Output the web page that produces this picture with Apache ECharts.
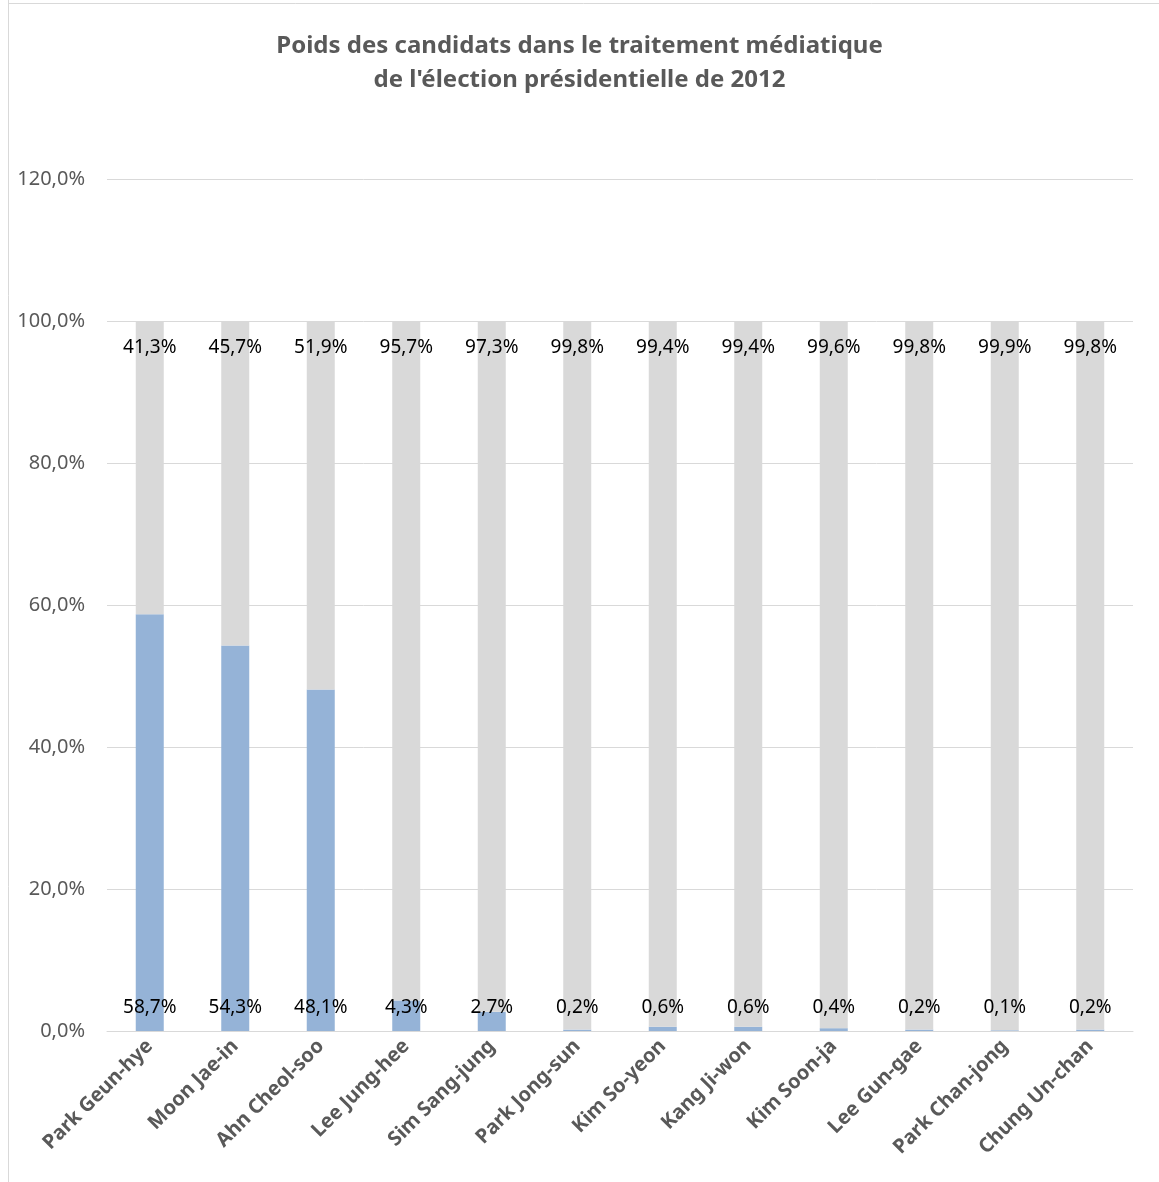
<!DOCTYPE html>
<html><head><meta charset="utf-8">
<script src="https://cdn.jsdelivr.net/npm/echarts@6/dist/echarts.min.js"></script>
<style>html,body{margin:0;padding:0;background:#fff}#c{width:1159px;height:1182px}</style>
</head><body><div id="c"></div>
<script>
const categories = ["Park Geun-hye","Moon Jae-in","Ahn Cheol-soo","Lee Jung-hee","Sim Sang-jung","Park Jong-sun","Kim So-yeon","Kang Ji-won","Kim Soon-ja","Lee Gun-gae","Park Chan-jong","Chung Un-chan"];
const shareValues = [58.7,54.3,48.1,4.3,2.7,0.2,0.6,0.6,0.4,0.2,0.1,0.2];
const restValues = [41.3,45.7,51.9,95.7,97.3,99.8,99.4,99.4,99.6,99.8,99.9,99.8];
const titleText = "Poids des candidats dans le traitement médiatique\nde l'élection présidentielle de 2012";

const fmt = v => v.toFixed(1).replace('.', ',') + '%';
const chart = echarts.init(document.getElementById('c'), null, {renderer:'canvas'});
chart.setOption({
  animation:false,
  backgroundColor:'#fff',
  textStyle:{fontFamily:'Noto Sans'},
  title:{text:titleText,left:'center',top:24,textStyle:{fontFamily:'Noto Sans',fontSize:24,fontWeight:'bold',color:'#595959',lineHeight:34}},
  graphic:[
    {type:'line',shape:{x1:8.5,y1:0,x2:8.5,y2:1182},style:{stroke:'#d9d9d9',lineWidth:1}},
    {type:'line',shape:{x1:8,y1:3.5,x2:1159,y2:3.5},style:{stroke:'#d9d9d9',lineWidth:1}}
  ],
  grid:{left:107,right:26,top:179,bottom:151},
  xAxis:{type:'category',data:categories,
    axisLine:{lineStyle:{color:'#d9d9d9',width:1}},axisTick:{show:false},
    axisLabel:{rotate:45,interval:0,fontFamily:'Noto Sans',fontSize:20,fontWeight:'bold',color:'#595959',margin:12}},
  yAxis:{type:'value',min:0,max:120,interval:20,
    axisLine:{show:false},axisTick:{show:false},
    splitLine:{lineStyle:{color:'#d9d9d9',width:1}},
    axisLabel:{formatter:v=>v.toFixed(1).replace('.',',')+'%',fontFamily:'Noto Sans',fontSize:20,color:'#595959',margin:22}},
  series:[
    {type:'bar',stack:'s',data:shareValues,barWidth:28,itemStyle:{color:'#95b3d7'},
     label:{show:true,position:'insideBottom',distance:14,formatter:p=>fmt(p.value),color:'#000',fontFamily:'Noto Sans',fontSize:19}},
    {type:'bar',stack:'s',data:restValues,barWidth:28,itemStyle:{color:'#d9d9d9'},
     label:{show:true,position:'insideTop',distance:17,formatter:p=>fmt(p.value),color:'#000',fontFamily:'Noto Sans',fontSize:19}}
  ]
});
</script></body></html>
